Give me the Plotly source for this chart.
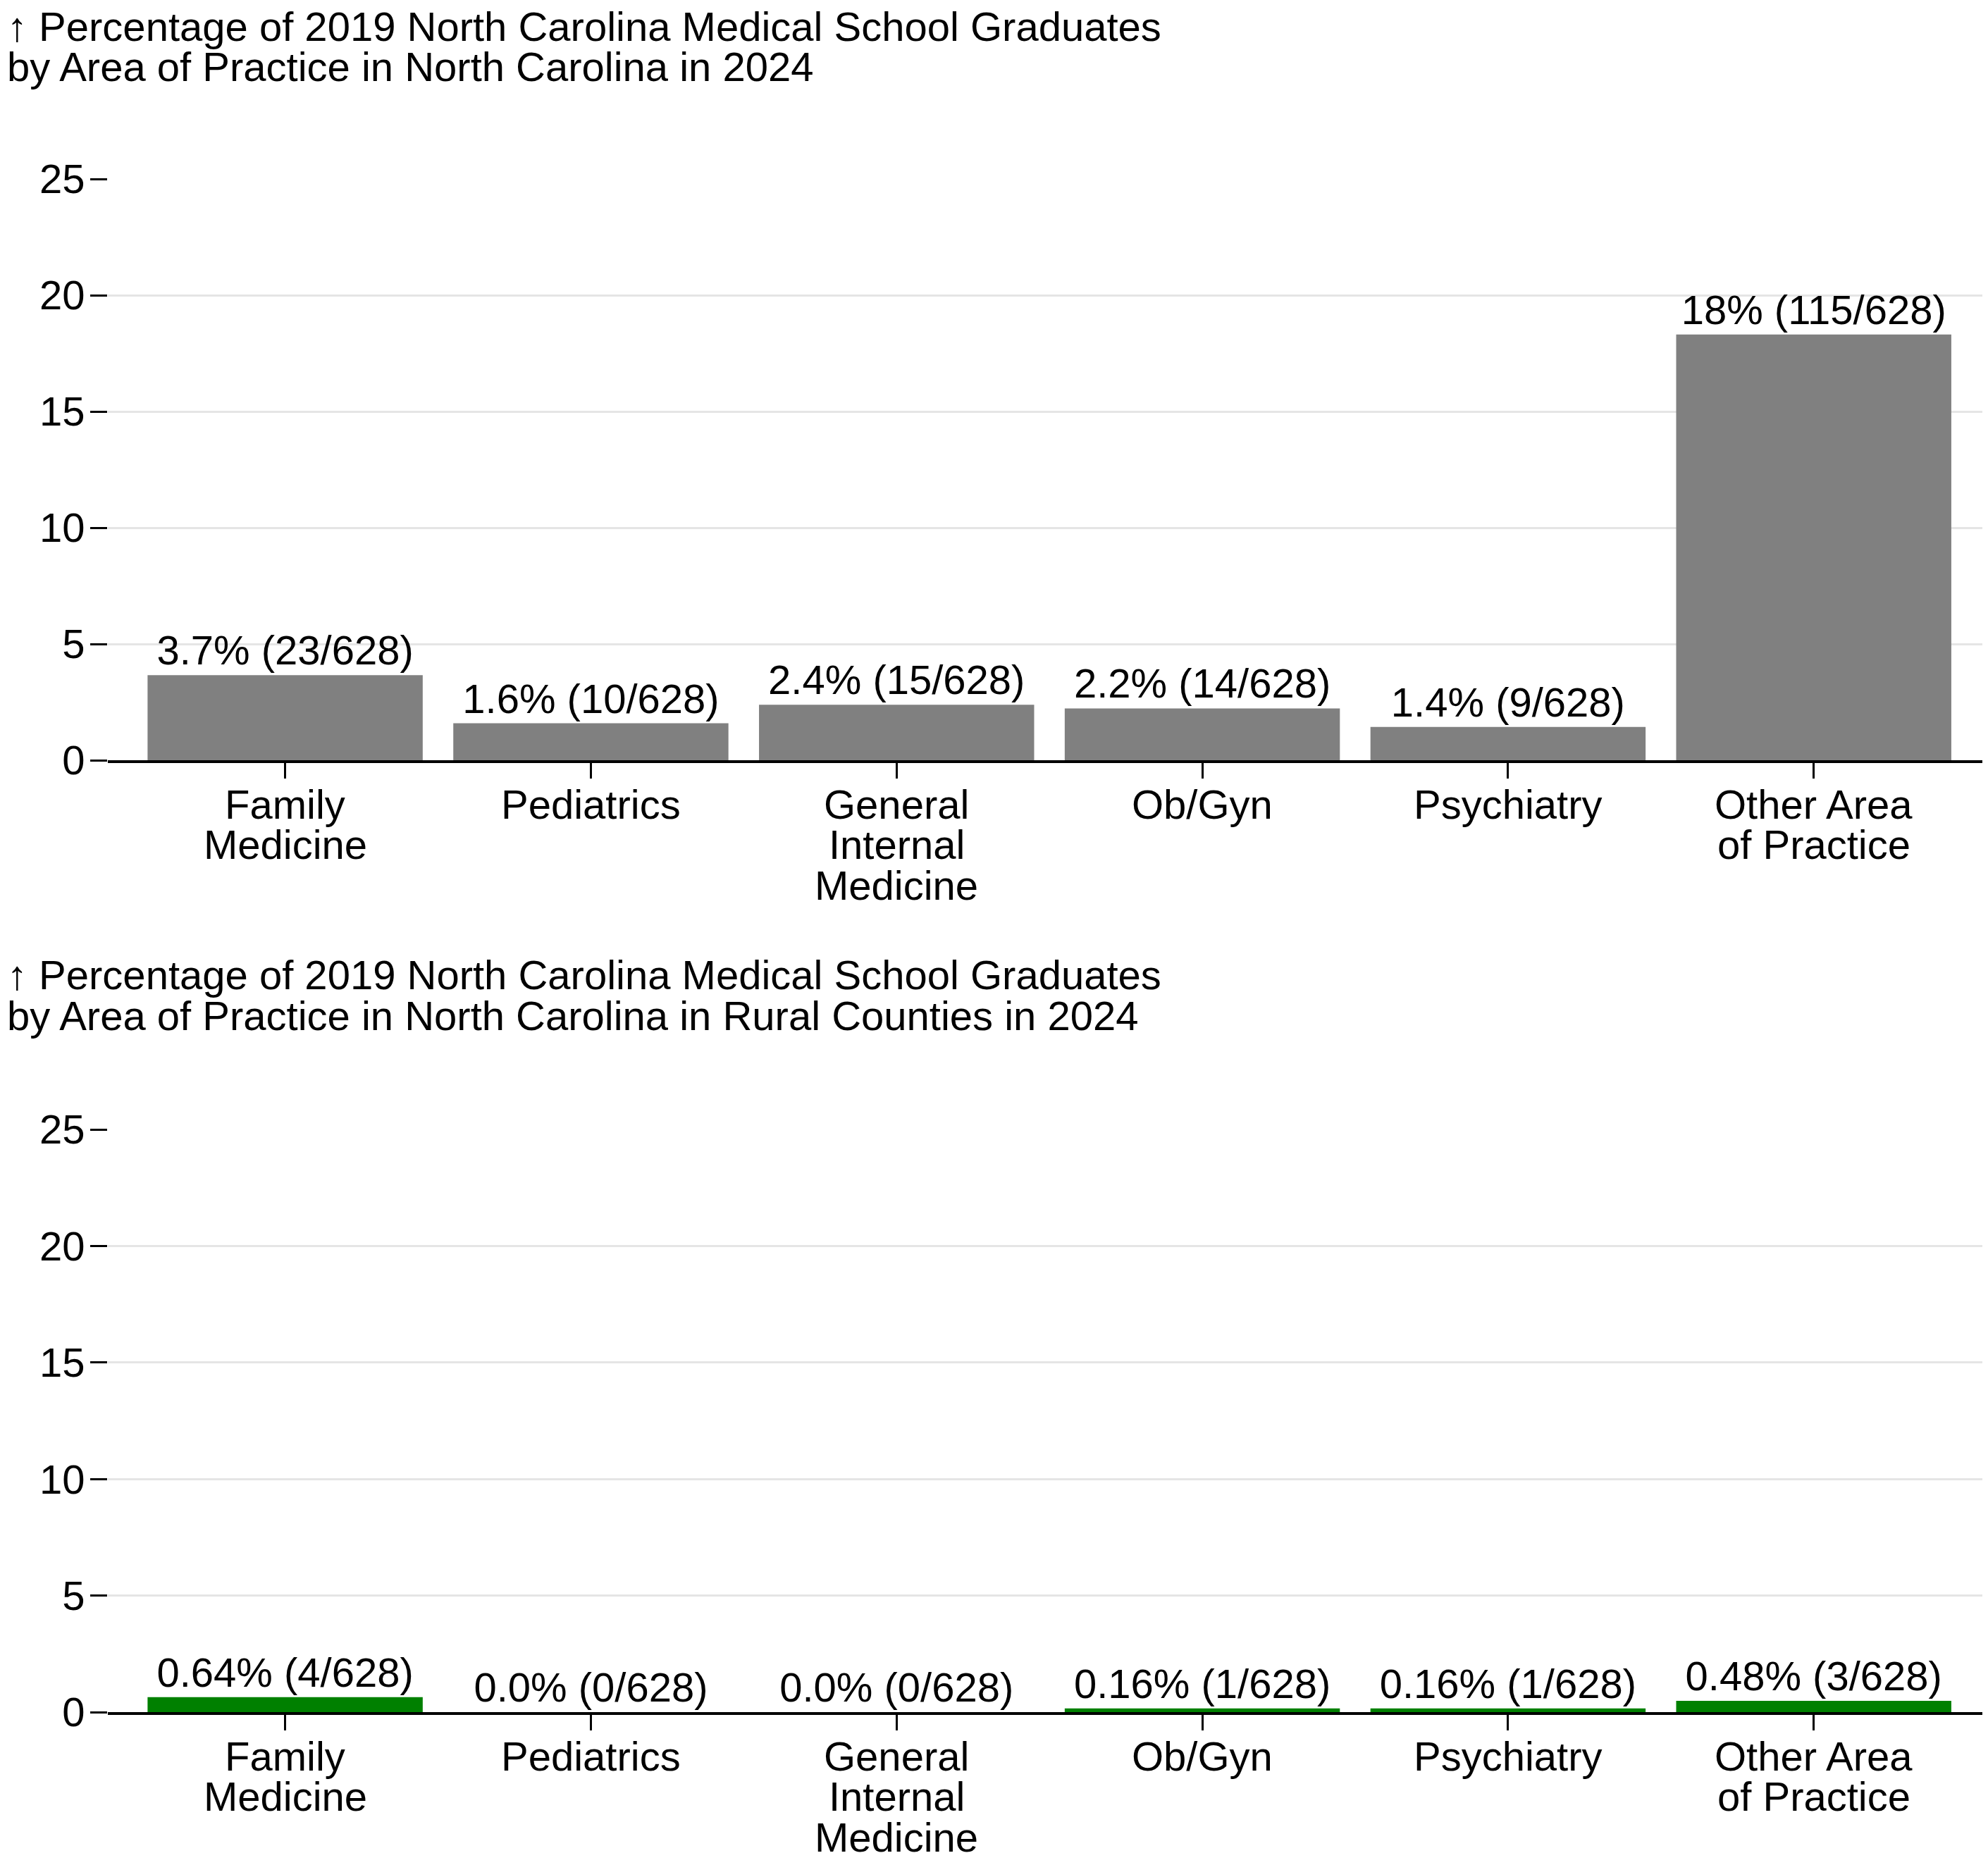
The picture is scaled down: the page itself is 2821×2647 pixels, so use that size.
import plotly.graph_objects as go

W, H = 2821, 2647
OFF = 8  # page offset of the plot div
FW, FH = W - OFF, H - OFF

categories = ["Family Medicine", "Pediatrics", "General Internal Medicine",
              "Ob/Gyn", "Psychiatry", "Other Area of Practice"]
category_lines = [["Family", "Medicine"], ["Pediatrics"], ["General", "Internal", "Medicine"],
                  ["Ob/Gyn"], ["Psychiatry"], ["Other Area", "of Practice"]]

nc_pct = [3.66, 1.59, 2.39, 2.23, 1.43, 18.31]
nc_labels = ["3.7% (23/628)", "1.6% (10/628)", "2.4% (15/628)",
             "2.2% (14/628)", "1.4% (9/628)", "18% (115/628)"]

rural_pct = [0.64, 0.0, 0.0, 0.16, 0.16, 0.48]
rural_labels = ["0.64% (4/628)", "0.0% (0/628)", "0.0% (0/628)",
                "0.16% (1/628)", "0.16% (1/628)", "0.48% (3/628)"]

y_ticks = [0, 5, 10, 15, 20, 25]

title_top = ["↑ Percentage of 2019 North Carolina Medical School Graduates",
             "by Area of Practice in North Carolina in 2024"]
title_bottom = ["↑ Percentage of 2019 North Carolina Medical School Graduates",
                "by Area of Practice in North Carolina in Rural Counties in 2024"]

FONT = "Liberation Sans, Arial, Helvetica, sans-serif"
FS = 58

fig = go.Figure()

xidx = list(range(len(categories)))

fig.add_trace(go.Bar(x=xidx, y=nc_pct, text=nc_labels, textposition="outside",
                     marker=dict(color="#808080", line=dict(width=0)),
                     width=0.9, cliponaxis=False, constraintext="none",
                     textfont=dict(size=FS, color="black", family=FONT),
                     xaxis="x", yaxis="y", showlegend=False, hoverinfo="skip"))
fig.add_trace(go.Bar(x=xidx, y=rural_pct, text=rural_labels, textposition="outside",
                     marker=dict(color="#008000", line=dict(width=0)),
                     width=0.9, cliponaxis=False, constraintext="none",
                     textfont=dict(size=FS, color="black", family=FONT),
                     xaxis="x2", yaxis="y2", showlegend=False, hoverinfo="skip"))

def ypaper(py):
    return 1 - (py - OFF) / FH

def xpaper(px):
    return (px - OFF) / FW

top_dom = [ypaper(1079), ypaper(254)]
bot_dom = [ypaper(2430), ypaper(1603)]
x_dom = [xpaper(153), 1.0]

xrange_ = [-0.58, 5.57]

common_x = dict(range=xrange_, showgrid=False, zeroline=False, showline=True,
                linecolor="black", linewidth=4, ticks="outside", ticklen=22,
                tickwidth=3, tickcolor="black", showticklabels=False,
                tickvals=xidx, fixedrange=True)
common_y = dict(range=[0, 25], tickvals=y_ticks, showgrid=True, gridcolor="#e5e5e5",
                gridwidth=3, zeroline=False, showline=False, ticks="outside",
                ticklen=24, tickwidth=3, tickcolor="black",
                tickfont=dict(size=FS, color="black", family=FONT),
                automargin=False, fixedrange=True, ticklabelstandoff=-4)

fig.update_layout(
    width=FW, height=FH,
    margin=dict(l=0, r=0, t=0, b=0),
    paper_bgcolor="white", plot_bgcolor="white",
    font=dict(family=FONT, size=FS, color="black"),
    bargap=0.1,
    xaxis=dict(domain=x_dom, anchor="y", **common_x),
    yaxis=dict(domain=top_dom, anchor="x", **common_y),
    xaxis2=dict(domain=x_dom, anchor="y2", **common_x),
    yaxis2=dict(domain=bot_dom, anchor="x2", **common_y),
)

annotations = []
line_offsets = [62, 119, 177]
for xref, yref in [("x", "y domain"), ("x2", "y2 domain")]:
    for i, lines in enumerate(category_lines):
        for j, ln in enumerate(lines):
            annotations.append(dict(text=ln, x=i, xref=xref, y=0, yref=yref,
                                    yshift=-line_offsets[j], xanchor="center",
                                    yanchor="middle", showarrow=False,
                                    font=dict(size=FS, color="black", family=FONT)))

for lines, centers in [(title_top, [38, 95]), (title_bottom, [1383, 1441])]:
    for ln, cy in zip(lines, centers):
        annotations.append(dict(text=ln, x=0, xref="paper", xanchor="left",
                                y=ypaper(cy), yref="paper", yanchor="middle",
                                showarrow=False,
                                font=dict(size=FS, color="black", family=FONT)))

fig.update_layout(annotations=annotations)

fig.write_html("out.html", config={"displayModeBar": False})
